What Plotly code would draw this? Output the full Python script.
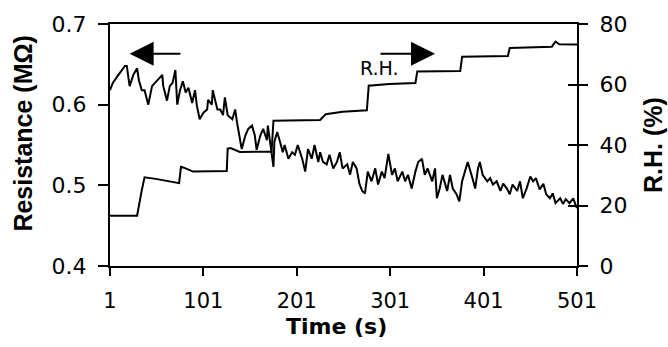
import plotly.graph_objects as go

# ---- data ----
time_res = [1, 4, 10, 14, 17, 19, 22, 26, 30, 32, 35, 38, 42, 46, 49, 52, 57, 58, 62, 65,
            68, 71, 73, 76, 79, 82, 85, 89, 92, 94, 97, 101, 105, 106, 110, 111, 116, 119, 122, 124,
            127, 132, 135, 137, 139, 142, 146, 149, 153, 156, 158, 162, 165, 169, 170, 173, 176, 177, 180, 183,
            186, 188, 192, 196, 199, 202, 207, 210, 213, 217, 220, 224,
            226, 229, 233, 236, 240, 244, 247, 250, 255, 258, 261, 265, 268, 271, 274, 277, 281, 285, 288, 292,
            295, 299, 303, 306, 309, 314, 317, 320, 324, 328, 331, 335, 338, 341, 346, 349, 351, 354, 357, 362,
            365, 368, 372, 375, 378, 381, 384, 389, 392, 395, 397, 400, 405, 408, 411, 415, 419, 422, 426, 429,
            432, 437, 440, 443, 447,
            451, 454, 457, 461, 465, 468, 472, 475, 478, 483, 486, 489, 493, 497, 500, 501]
resistance = [0.618, 0.627, 0.637, 0.643, 0.648, 0.648, 0.623, 0.637, 0.645, 0.630, 0.618, 0.618, 0.600, 0.623, 0.627, 0.630, 0.637, 0.623, 0.605, 0.623,
              0.627, 0.643, 0.600, 0.618, 0.629, 0.615, 0.621, 0.602, 0.618, 0.599, 0.582, 0.590, 0.594, 0.606, 0.600, 0.618, 0.594, 0.594, 0.587, 0.609,
              0.587, 0.582, 0.594, 0.578, 0.563, 0.545, 0.562, 0.570, 0.574, 0.562, 0.544, 0.562, 0.570, 0.556, 0.574, 0.545, 0.523, 0.554, 0.566, 0.554,
              0.541, 0.550, 0.533, 0.541, 0.538, 0.550, 0.532, 0.517, 0.545, 0.533, 0.550, 0.529,
              0.541, 0.529, 0.526, 0.538, 0.521, 0.529, 0.541, 0.521, 0.526, 0.513, 0.529, 0.521, 0.502, 0.493, 0.490, 0.517, 0.505, 0.521, 0.501, 0.517,
              0.509, 0.539, 0.513, 0.521, 0.505, 0.517, 0.505, 0.513, 0.496, 0.517, 0.529, 0.533, 0.513, 0.521, 0.505, 0.521, 0.484, 0.496, 0.513, 0.493,
              0.513, 0.496, 0.489, 0.480, 0.505, 0.517, 0.529, 0.509, 0.496, 0.521, 0.529, 0.513, 0.505, 0.509, 0.501, 0.505, 0.493, 0.502, 0.496, 0.489,
              0.501, 0.493, 0.505, 0.484, 0.496,
              0.511, 0.505, 0.509, 0.495, 0.502, 0.489, 0.484, 0.490, 0.478, 0.484, 0.477, 0.483, 0.478, 0.484, 0.474, 0.472]
assert len(time_res) == len(resistance)

time_rh = [1, 30, 35, 38, 50, 75, 77, 80, 90, 126, 127, 130, 140, 174, 176, 226, 232, 250, 276,
           278, 300, 328, 330, 376, 378, 427, 429, 474, 478, 482, 501]
rh = [16.6, 16.6, 25.0, 29.3, 28.8, 27.4, 32.8, 32.5, 31.2, 31.4, 38.8, 39.0, 37.7, 37.8, 48.0, 48.3, 50.2, 51.0, 51.5,
      59.6, 60.2, 60.5, 64.3, 64.5, 69.2, 69.4, 72.1, 72.5, 74.2, 73.3, 73.2]
assert len(time_rh) == len(rh)

x_ticks = [1, 101, 201, 301, 401, 501]

WIDE = "DejaVu Sans, Verdana, sans-serif"
NARROW = "Liberation Sans, Arial, sans-serif"

fig = go.Figure()
fig.add_trace(go.Scatter(x=time_res, y=resistance, mode="lines",
                         line=dict(color="black", width=2), yaxis="y", showlegend=False))
fig.add_trace(go.Scatter(x=time_rh, y=rh, mode="lines",
                         line=dict(color="black", width=2), yaxis="y2", showlegend=False))
# invisible trace carrying the inward tick marks of the right axis
fig.add_trace(go.Scatter(x=time_rh, y=rh, mode="lines", line=dict(color="rgba(0,0,0,0)", width=0),
                         yaxis="y3", showlegend=False, hoverinfo="skip"))

fig.update_layout(
    width=668, height=347,
    margin=dict(l=110, r=91, t=20, b=81),
    paper_bgcolor="white", plot_bgcolor="white",
    font=dict(family=WIDE, color="black"),
    xaxis=dict(range=[1, 501], tickvals=x_ticks, ticktext=[str(v) for v in x_ticks],
               ticks="outside", ticklen=8, tickwidth=1.5, tickcolor="black",
               showline=True, linewidth=2, linecolor="black", mirror=True,
               showgrid=False, zeroline=False, tickfont=dict(size=21, family=WIDE),
               ticklabelstandoff=7),
    yaxis=dict(range=[0.4, 0.7], tickvals=[0.4, 0.5, 0.6, 0.7], ticktext=["0.4", "0.5", "0.6", "0.7"],
               ticks="outside", ticklen=10, tickwidth=1.5, tickcolor="black",
               showline=True, linewidth=2, linecolor="black",
               showgrid=False, zeroline=False, tickfont=dict(size=22, family=WIDE),
               ticklabelstandoff=7),
    yaxis2=dict(range=[0, 80], tickvals=[0, 20, 40, 60, 80], overlaying="y", side="right",
                ticks="outside", ticklen=9, tickwidth=1.5, tickcolor="black",
                showline=True, linewidth=2, linecolor="black",
                showgrid=False, zeroline=False, tickfont=dict(size=22, family=WIDE),
                ticklabelstandoff=7),
    yaxis3=dict(range=[0, 80], tickvals=[0, 20, 40, 60, 80], overlaying="y", side="right",
                ticks="inside", ticklen=9, tickwidth=1.5, tickcolor="black",
                showticklabels=False, showline=False, showgrid=False, zeroline=False),
)

# axis titles
fig.add_annotation(x=0.485, y=-0.252, xref="paper", yref="paper", text="<b>Time (s)</b>",
                   showarrow=False, xanchor="center", yanchor="middle",
                   font=dict(size=22, family=WIDE, color="black"))
fig.add_annotation(x=-0.1863, y=0.547, xref="paper", yref="paper", text="<b>Resistance (MΩ)</b>",
                   showarrow=False, textangle=-90, xanchor="center", yanchor="middle",
                   font=dict(size=25, family=NARROW, color="black"))
fig.add_annotation(x=1.1627, y=0.5, xref="paper", yref="paper", text="<b>R.H. (%)</b>",
                   showarrow=False, textangle=-90, xanchor="center", yanchor="middle",
                   font=dict(size=25, family=NARROW, color="black"))

# direction arrows and label
fig.add_annotation(x=22, y=0.663, ax=78, ay=0.663, xref="x", yref="y", axref="x", ayref="y",
                   text="", showarrow=True, arrowhead=2, arrowsize=2.4, arrowwidth=2, arrowcolor="black")
fig.add_annotation(x=349, y=0.663, ax=289, ay=0.663, xref="x", yref="y", axref="x", ayref="y",
                   text="", showarrow=True, arrowhead=2, arrowsize=2.4, arrowwidth=2, arrowcolor="black")
fig.add_annotation(x=290, y=0.646, xref="x", yref="y", text="R.H.", showarrow=False,
                   font=dict(size=19, family=WIDE, color="black"))

fig.write_html("out.html")
